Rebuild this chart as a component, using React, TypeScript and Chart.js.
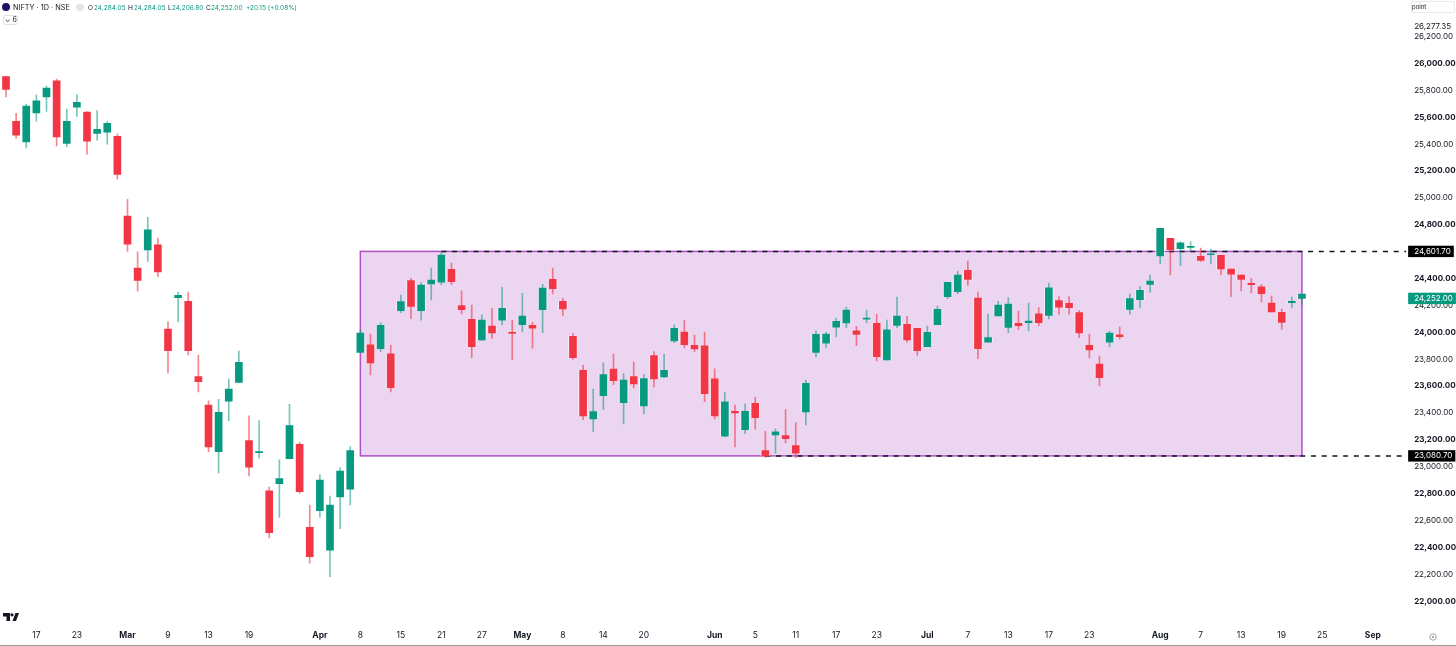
import React, { useEffect, useRef } from "react";
import { Chart, registerables } from "chart.js";

Chart.register(...registerables);

const opens = [25903,25569,25417,25632,25751,25870,25405,25675,25638,25479,25489,25457,24865,24478,24612,24651,24024,24257,24230,23670,23459,23112,23487,23628,23194,23105,22820,22874,23060,23167,22550,22674,22379,22776,22833,23851,23906,23878,23839,24161,24384,24161,24359,24372,24468,24198,24097,23943,24047,24091,24000,24056,24052,24168,24394,24230,23970,23717,23356,23529,23727,23477,23670,23452,23826,23668,23935,24002,23903,23900,23653,23227,23413,23276,23472,23120,23236,23231,23157,23407,23851,23920,24039,24069,24010,24097,24067,23794,24052,24059,24030,23893,24056,24265,24302,24461,24255,23926,24121,24037,24067,24071,24138,24126,24235,24216,24146,23903,23764,23926,23982,24171,24242,24357,24569,24699,24622,24632,24565,24577,24572,24471,24426,24364,24339,24218,24149,24220,24252];
const highs = [25903,25628,25697,25764,25831,25883,25660,25769,25640,25650,25569,25474,24989,24599,24855,24701,24077,24300,24300,23831,23491,23502,23653,23861,23378,23343,22848,23051,23465,23182,22714,22939,22781,22993,23149,24017,23987,24071,23903,24277,24401,24369,24478,24599,24515,24309,24203,24129,24178,24334,24089,24290,24074,24357,24478,24253,23992,23755,23578,23772,23839,23692,23781,23688,23856,23836,24056,24089,23980,24002,23729,23554,23459,23467,23517,23264,23281,23425,23326,23645,24010,24000,24106,24188,24045,24166,24134,24091,24262,24119,24030,24047,24195,24372,24456,24530,24300,24136,24230,24257,24158,24218,24183,24366,24265,24265,24161,23987,23824,24007,24039,24285,24342,24426,24773,24699,24673,24673,24627,24619,24572,24471,24426,24401,24357,24270,24173,24262,24284.05];
const lows = [25751,25444,25372,25571,25643,25387,25380,25606,25325,25429,25400,25140,24602,24305,24528,24413,23697,24077,23831,23556,23110,22954,23343,23625,22932,23065,22471,22622,23058,22803,22283,22622,22183,22540,22716,23848,23683,23856,23556,24146,24101,24091,24240,24354,24354,24136,23811,23937,23955,24056,23796,24004,23881,23997,24285,24126,23799,23350,23261,23425,23610,23318,23586,23395,23593,23665,23923,23883,23856,23484,23356,23224,23147,23246,23279,23068,23100,23177,23068,23311,23816,23885,23965,24034,23900,24069,23787,23792,24034,23926,23829,23893,24056,24250,24287,24349,23804,23926,24121,23997,24019,24010,24049,24099,24134,24134,23960,23809,23601,23891,23950,24134,24183,24297,24510,24426,24495,24602,24528,24508,24426,24265,24307,24292,24225,24151,24024,24183,24206.8];
const closes = [25806,25467,25682,25722,25816,25454,25569,25710,25422,25509,25554,25174,24656,24386,24763,24450,23863,24275,23863,23633,23147,23405,23578,23777,22996,23112,22510,22912,23306,22815,22330,22900,22714,22967,23120,23995,23772,24052,23588,24228,24193,24352,24389,24575,24376,24168,23893,24091,23995,24178,23992,24121,24030,24329,24324,24173,23811,23378,23410,23685,23640,23645,23616,23655,23653,23717,24030,23908,23876,23543,23378,23482,23400,23413,23365,23080,23259,23209,23100,23621,23985,23987,24082,24166,23985,24106,23819,24019,24121,23943,23863,24000,24171,24372,24426,24394,23878,23960,24203,24210,24049,24084,24071,24331,24186,24183,23995,23868,23662,23995,23967,24250,24312,24381,24773,24614,24666,24639,24535,24584,24471,24433,24394,24354,24287,24151,24074,24230,24284.05];

const slotCount = 138;
const xTickIndex = [3,7,12,16,20,24,31,35,39,43,47,51,55,59,63,70,74,78,82,86,91,95,99,103,107,114,118,122,126,130,135];
const xTickLabels = ["17","23","Mar","9","13","19","Apr","8","15","21","27","May","8","14","20","Jun","5","11","17","23","Jul","7","13","17","23","Aug","7","13","19","25","Sep"];
const monthLabels = ["Mar","Apr","May","Jun","Jul","Aug","Sep"];

const priceTicks = [22000,22200,22400,22600,22800,23000,23080.7,23200,23400,23600,23800,24000,24200,24252,24400,24601.7,24800,25000,25200,25400,25600,25800,26000,26200,26277.35];
const rangeTop = 24601.7;
const rangeBottom = 23080.7;
const lastPrice = 24252;
const rangeStartIndex = 35;
const rangeEndIndex = 128;
const topLineStartIndex = 43;
const bottomLineStartIndex = 75;
const headerQuote = ["24,284.05", "24,284.05", "24,206.80", "24,252.00"];
const headerChange = "+20.15 (+0.08%)";

const UP = "#089981";
const DOWN = "#f23645";
const UP_WICK = "rgba(8,153,129,0.55)";
const DOWN_WICK = "rgba(242,54,69,0.6)";
const TEXT = "#131722";
const FONT = "Inter, Roboto, sans-serif";

const priceOverlay = {
  id: "priceOverlay",
  beforeDatasetsDraw(chart: any) {
    const { ctx, scales, chartArea } = chart;
    const x = scales.x;
    const y = scales.y;
    const left = x.getPixelForValue(rangeStartIndex);
    const right = x.getPixelForValue(rangeEndIndex);
    const top = y.getPixelForValue(rangeTop);
    const bottom = y.getPixelForValue(rangeBottom);
    ctx.save();
    ctx.fillStyle = "#ecd5f0";
    ctx.fillRect(left, top, right - left, bottom - top);
    ctx.strokeStyle = "#ad52c4";
    ctx.lineWidth = 1.5;
    ctx.strokeRect(left, top, right - left, bottom - top);
    ctx.strokeStyle = "#131722";
    ctx.lineWidth = 1.5;
    ctx.setLineDash([5, 5.7]);
    ctx.beginPath();
    ctx.moveTo(x.getPixelForValue(topLineStartIndex), top);
    ctx.lineTo(chartArea.right + 8, top);
    ctx.moveTo(x.getPixelForValue(bottomLineStartIndex), bottom);
    ctx.lineTo(chartArea.right + 8, bottom);
    ctx.stroke();
    ctx.restore();
  },
};

const isBoxed = (v: number) => v === rangeTop || v === rangeBottom || v === lastPrice;

export default function App() {
  const ref = useRef<HTMLCanvasElement | null>(null);

  useEffect(() => {
    const canvas = ref.current;
    if (!canvas) return;
    const labels: string[] = new Array(slotCount).fill("");
    xTickIndex.forEach((idx, k) => {
      labels[idx] = xTickLabels[k];
    });
    const colors = opens.map((o, i) => (closes[i] >= o ? UP : DOWN));
    const wickColors = opens.map((o, i) => (closes[i] >= o ? UP_WICK : DOWN_WICK));
    const bodies = opens.map((o, i) => [Math.min(o, closes[i]), Math.max(o, closes[i])]);
    const wicks = lows.map((l, i) => [l, highs[i]]);

    const chart = new Chart(canvas, {
      type: "bar",
      data: {
        labels,
        datasets: [
          { data: bodies as any, backgroundColor: colors, barThickness: 7, grouped: false, order: 1 },
          { data: wicks as any, backgroundColor: wickColors, barThickness: 1, grouped: false, order: 2 },
          { data: bodies as any, backgroundColor: "rgba(255,255,255,0.55)", barThickness: 9, grouped: false, order: 3 },
        ],
      } as any,
      plugins: [priceOverlay],
      options: {
        animation: false,
        responsive: false,
        layout: { autoPadding: false, padding: { left: 0.64, right: 0, top: 0, bottom: 0 } },
        plugins: { legend: { display: false }, tooltip: { enabled: false } },
        scales: {
          x: {
            type: "category",
            offset: true,
            grid: { display: false, drawTicks: false },
            border: { display: false },
            afterFit: (s: any) => { s.height = 21; },
            ticks: {
              autoSkip: false,
              maxRotation: 0,
              minRotation: 0,
              padding: 6,
              color: TEXT,
              font: (c: any) => ({
                family: FONT,
                size: 8.5,
                weight: monthLabels.includes(c.tick?.label) ? "bold" : "normal",
              }),
            },
          },
          y: {
            type: "linear",
            position: "right",
            min: 21824.1,
            max: 26314.2,
            grid: { display: false, drawTicks: false },
            border: { display: false },
            afterFit: (s: any) => { s.width = 57.86; },
            afterBuildTicks: (s: any) => { s.ticks = priceTicks.map((value) => ({ value })); },
            ticks: {
              autoSkip: false,
              padding: 16,
              callback: (v: any) =>
                Number(v).toLocaleString("en-US", { minimumFractionDigits: 2, maximumFractionDigits: 2 }),
              color: (c: any) => (isBoxed(c.tick?.value) ? "#ffffff" : TEXT),
              font: (c: any) => ({
                family: FONT,
                size: 8,
                lineHeight: 1.3,
                weight: !isBoxed(c.tick?.value) && c.tick?.value % 400 === 0 ? "bold" : "normal",
              }),
              showLabelBackdrop: (c: any) => isBoxed(c.tick?.value),
              backdropColor: (c: any) => (c.tick?.value === lastPrice ? UP : "#000000"),
              backdropPadding: { left: 6, right: 3, top: 0.5, bottom: 0.5 },
            },
          },
        },
      } as any,
    });
    return () => chart.destroy();
  }, []);

  const small: React.CSSProperties = { position: "absolute", top: 3, fontFamily: FONT, fontSize: 6.5, lineHeight: "10px", whiteSpace: "nowrap" };

  return (
    <div style={{ position: "fixed", left: 0, top: 0, width: 1456, height: 646, background: "#fff", overflow: "hidden" }}>
      <canvas ref={ref} width={1456} height={646} style={{ display: "block", width: 1456, height: 646 }} />
      <div style={{ position: "absolute", left: 2, top: 3, width: 8, height: 8, borderRadius: 4, background: "#1b1464" }} />
      <span style={{ ...small, left: 13, fontSize: 7.3, color: TEXT }}>NIFTY · 1D · NSE</span>
      <div style={{ position: "absolute", left: 76, top: 4, width: 8, height: 7, borderRadius: 4, background: "#e4e4e6" }} />
      <span style={{ ...small, left: 88, color: TEXT }}>O</span>
      <span style={{ ...small, left: 94, color: UP }}>{headerQuote[0]}</span>
      <span style={{ ...small, left: 128, color: TEXT }}>H</span>
      <span style={{ ...small, left: 134, color: UP }}>{headerQuote[1]}</span>
      <span style={{ ...small, left: 168, color: TEXT }}>L</span>
      <span style={{ ...small, left: 172, color: UP }}>{headerQuote[2]}</span>
      <span style={{ ...small, left: 206, color: TEXT }}>C</span>
      <span style={{ ...small, left: 211, color: UP }}>{headerQuote[3]}</span>
      <span style={{ ...small, left: 246, color: UP }}>{headerChange}</span>
      <div style={{ position: "absolute", left: 3, top: 15, width: 15, height: 10, border: "1px solid #e0e3eb", borderRadius: 2, boxSizing: "border-box" }} />
      <span style={{ ...small, left: 5, top: 15, fontSize: 7, color: TEXT }}>⌄ 6</span>
      <div style={{ position: "absolute", left: 1411, top: 1, width: 44, height: 12, border: "1px solid #e8e9ed", borderRadius: 2, boxSizing: "border-box" }} />
      <span style={{ ...small, left: 1412, top: 2, fontSize: 6, color: TEXT }}>point</span>
      <svg style={{ position: "absolute", left: 3, top: 613 }} width={16} height={9} viewBox="0 0 16 9">
        <path d="M0 0H7V8H3.5V3.5H0Z M9.5 8 L12.5 0 H16 L13 8Z" fill="#131722" />
        <circle cx="9" cy="1.8" r="1.6" fill="#131722" />
      </svg>
      <svg style={{ position: "absolute", left: 1429, top: 633 }} width={8} height={8} viewBox="0 0 8 8">
        <circle cx="4" cy="4" r="3.2" fill="none" stroke="#8a8e99" strokeWidth="0.8" />
        <circle cx="4" cy="4" r="1" fill="#8a8e99" />
      </svg>
      <div style={{ position: "absolute", left: 0, top: 645, width: 1456, height: 1, background: "#9a9a9a" }} />
    </div>
  );
}
